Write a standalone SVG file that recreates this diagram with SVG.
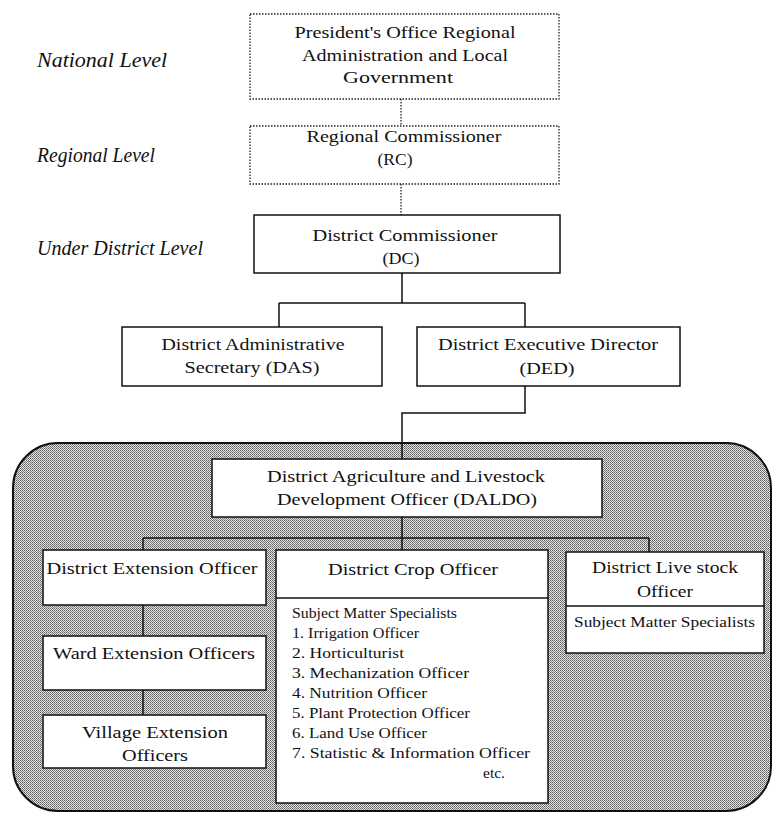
<svg xmlns="http://www.w3.org/2000/svg" width="773" height="813" viewBox="0 0 773 813">
  <style>
    .lvl { font-family: "Liberation Serif", "Times New Roman", serif; font-style: italic; font-size: 22px; fill: #111; }
    .t { font-family: "Liberation Serif", "Times New Roman", serif; font-size: 16.5px; fill: #111; text-anchor: middle; }
    .s { font-family: "Liberation Serif", "Times New Roman", serif; font-size: 14px; fill: #111; }
    .box { fill: #fff; stroke: #111; stroke-width: 1.5; }
    .dbox { fill: #fff; stroke: #222; stroke-width: 1.3; stroke-dasharray: 1.5 1.5; }
    .ln { fill: none; stroke: #111; stroke-width: 1.5; }
    .dln { fill: none; stroke: #222; stroke-width: 1.3; stroke-dasharray: 1.5 1.5; }
  </style>
  <defs>
    <pattern id="dither" x="0" y="0" width="2" height="2" patternUnits="userSpaceOnUse">
      <rect width="2" height="2" fill="#e4e4e4"/>
      <rect x="0" y="0" width="1" height="1" fill="#5e5e5e"/>
      <rect x="1" y="1" width="1" height="1" fill="#7e7e7e"/>
    </pattern>
  </defs>

  <rect width="773" height="813" fill="#fff"/>

  <!-- level labels -->
  <g id="levels">
    <text class="lvl" x="37" y="67" textLength="130" lengthAdjust="spacingAndGlyphs">National Level</text>
    <text class="lvl" x="37" y="162" textLength="118" lengthAdjust="spacingAndGlyphs">Regional Level</text>
    <text class="lvl" x="37" y="255" textLength="166" lengthAdjust="spacingAndGlyphs">Under District Level</text>
  </g>

  <!-- shaded district agriculture section -->
  <path id="agri-section" d="M58,443 H726 A45,45 0 0 1 771,488 V766 A45,45 0 0 1 726,811 H58 A45,45 0 0 1 13,766 V488 A45,45 0 0 1 58,443 Z" fill="url(#dither)" stroke="#111" stroke-width="2"/>

  <!-- connectors -->
  <g id="connectors">
    <path class="dln" d="M401,99 V126"/>
    <path class="dln" d="M401,184 V215"/>
    <path class="ln" d="M402,273 V303 M279,303 H525 M279,303 V327 M525,303 V327"/>
    <path class="ln" d="M525,386 V413 H402 V459"/>
    <path class="ln" d="M402,517 V550 M143,538 H649 M143,538 V550 M649,538 V552"/>
    <path class="ln" d="M143,605 V636 M143,690 V715"/>
  </g>

  <g id="pmo-ralg">
    <rect class="dbox" x="250" y="14" width="309" height="85"/>
    <text class="t" x="405" y="38" textLength="221" lengthAdjust="spacingAndGlyphs">President's Office Regional</text>
    <text class="t" x="405" y="61" textLength="206" lengthAdjust="spacingAndGlyphs">Administration and Local</text>
    <text class="t" x="398" y="83" textLength="110" lengthAdjust="spacingAndGlyphs">Government</text>
  </g>

  <g id="rc">
    <rect class="dbox" x="250" y="126" width="309" height="58"/>
    <text class="t" x="404" y="142" textLength="195" lengthAdjust="spacingAndGlyphs">Regional Commissioner</text>
    <text class="t" x="395" y="165" textLength="35" lengthAdjust="spacingAndGlyphs">(RC)</text>
  </g>

  <g id="dc">
    <rect class="box" x="254" y="215" width="306" height="58"/>
    <text class="t" x="405" y="241" textLength="185" lengthAdjust="spacingAndGlyphs">District Commissioner</text>
    <text class="t" x="401" y="264" textLength="37" lengthAdjust="spacingAndGlyphs">(DC)</text>
  </g>

  <g id="das">
    <rect class="box" x="122" y="327" width="260" height="59"/>
    <text class="t" x="253" y="350" textLength="183" lengthAdjust="spacingAndGlyphs">District Administrative</text>
    <text class="t" x="252" y="373" textLength="135" lengthAdjust="spacingAndGlyphs">Secretary (DAS)</text>
  </g>

  <g id="ded">
    <rect class="box" x="417" y="327" width="263" height="59"/>
    <text class="t" x="548" y="350" textLength="220" lengthAdjust="spacingAndGlyphs">District Executive Director</text>
    <text class="t" x="547" y="374" textLength="55" lengthAdjust="spacingAndGlyphs">(DED)</text>
  </g>

  <g id="daldo">
    <rect class="box" x="212" y="459" width="390" height="58"/>
    <text class="t" x="406" y="482" textLength="278" lengthAdjust="spacingAndGlyphs">District Agriculture and Livestock</text>
    <text class="t" x="407" y="505" textLength="260" lengthAdjust="spacingAndGlyphs">Development Officer (DALDO)</text>
  </g>

  <g id="deo">
    <rect class="box" x="43" y="550" width="223" height="55"/>
    <text class="t" x="152" y="574" textLength="211" lengthAdjust="spacingAndGlyphs">District Extension Officer</text>
  </g>

  <g id="weo">
    <rect class="box" x="43" y="636" width="223" height="54"/>
    <text class="t" x="154" y="659" textLength="202" lengthAdjust="spacingAndGlyphs">Ward Extension Officers</text>
  </g>

  <g id="veo">
    <rect class="box" x="43" y="715" width="223" height="53"/>
    <text class="t" x="155" y="738" textLength="146" lengthAdjust="spacingAndGlyphs">Village Extension</text>
    <text class="t" x="155" y="761" textLength="66" lengthAdjust="spacingAndGlyphs">Officers</text>
  </g>

  <g id="crop-officer">
    <rect class="box" x="276" y="550" width="272" height="253"/>
    <path class="ln" d="M276,598 H548"/>
    <text class="t" x="413" y="575" textLength="170" lengthAdjust="spacingAndGlyphs">District Crop Officer</text>
    <text class="s" x="292" y="618" textLength="165" lengthAdjust="spacingAndGlyphs">Subject Matter Specialists</text>
    <text class="s" x="292" y="638" textLength="127" lengthAdjust="spacingAndGlyphs">1. Irrigation Officer</text>
    <text class="s" x="292" y="658" textLength="112" lengthAdjust="spacingAndGlyphs">2. Horticulturist</text>
    <text class="s" x="292" y="678" textLength="177" lengthAdjust="spacingAndGlyphs">3. Mechanization Officer</text>
    <text class="s" x="292" y="698" textLength="135" lengthAdjust="spacingAndGlyphs">4. Nutrition Officer</text>
    <text class="s" x="292" y="718" textLength="178" lengthAdjust="spacingAndGlyphs">5. Plant Protection Officer</text>
    <text class="s" x="292" y="738" textLength="135" lengthAdjust="spacingAndGlyphs">6. Land Use Officer</text>
    <text class="s" x="292" y="758" textLength="238" lengthAdjust="spacingAndGlyphs">7. Statistic &amp; Information Officer</text>
    <text class="s" x="483" y="778" textLength="22" lengthAdjust="spacingAndGlyphs">etc.</text>
  </g>

  <g id="livestock-officer">
    <rect class="box" x="566" y="552" width="198" height="101"/>
    <path class="ln" d="M566,606 H764"/>
    <text class="t" x="665" y="573" textLength="146" lengthAdjust="spacingAndGlyphs">District Live stock</text>
    <text class="t" x="665" y="597" textLength="56" lengthAdjust="spacingAndGlyphs">Officer</text>
    <text class="s" x="574" y="627" font-size="15" textLength="181" lengthAdjust="spacingAndGlyphs">Subject Matter Specialists</text>
  </g>
</svg>
